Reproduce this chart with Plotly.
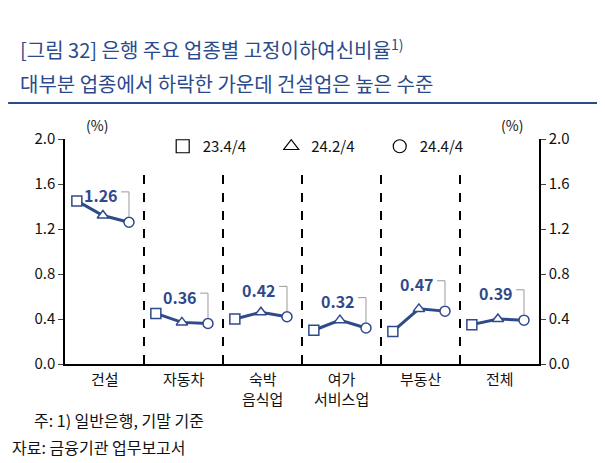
import plotly.graph_objects as go

groups = ["건설", "자동차", "숙박<br>음식업", "여가<br>서비스업", "부동산", "전체"]
periods = ["23.4/4", "24.2/4", "24.4/4"]
v_2304 = [1.45, 0.45, 0.40, 0.30, 0.29, 0.35]
v_2402 = [1.32, 0.37, 0.46, 0.39, 0.49, 0.40]
v_2404 = [1.26, 0.36, 0.42, 0.32, 0.47, 0.39]
y_ticks = [0.0, 0.4, 0.8, 1.2, 1.6, 2.0]

NAVY = "#2F4A8A"
FONT = "Noto Sans CJK KR"
offsets = [0.15, 0.48, 0.81]
symbols = ["square-open", "triangle-up-open", "circle-open"]

fig = go.Figure()

for i, g in enumerate(groups):
    xs = [i + o for o in offsets]
    ys = [v_2304[i], v_2402[i], v_2404[i]]
    fig.add_trace(go.Scatter(
        x=xs, y=ys, mode="lines+markers", showlegend=False,
        line=dict(color=NAVY, width=3),
        marker=dict(symbol=["square", "triangle-up", "circle"], size=10,
                    color="white", line=dict(color=NAVY, width=1.5))))
    # grey leader line from the label to the last point
    top = ys[2] + 0.27
    fig.add_trace(go.Scatter(
        x=[xs[2] - 0.1, xs[2], xs[2]], y=[top, top, ys[2] + 0.05],
        mode="lines", showlegend=False, hoverinfo="skip",
        line=dict(color="#9a9a9a", width=1)))
    fig.add_annotation(x=xs[2] - 0.12, y=top - 0.03, text=f"<b>{ys[2]:.2f}</b>",
                       showarrow=False, xanchor="right",
                       font=dict(family=FONT, size=16, color=NAVY))
    fig.add_annotation(x=i + 0.5, y=0, text=g, showarrow=False,
                       yanchor="top", yshift=-2,
                       font=dict(family=FONT, size=15, color="#111"))

# legend entries
for p, s in zip(periods, symbols):
    fig.add_trace(go.Scatter(x=[None], y=[None], mode="markers", name=p + "      ",
                             marker=dict(symbol=s, size=13, color="black",
                                         line=dict(width=1.2))))

for b in range(1, 6):
    fig.add_shape(type="line", x0=b, x1=b, y0=0, y1=1.69,
                  line=dict(color="black", width=2, dash="dash"))
    fig.add_shape(type="line", x0=b, x1=b, y0=0, y1=-0.04,
                  line=dict(color="black", width=1))

fig.add_trace(go.Scatter(x=[None], y=[None], yaxis="y2", showlegend=False))

fig.update_layout(
    width=605, height=463,
    margin=dict(l=57, r=74, t=131, b=107),
    paper_bgcolor="white", plot_bgcolor="white",
    font=dict(family=FONT, size=15, color="#111"),
    legend=dict(orientation="h", x=0.55, xanchor="center", y=1.04, yanchor="top",
                font=dict(family=FONT, size=15), bgcolor="rgba(0,0,0,0)"),
    xaxis=dict(range=[0, 6], showgrid=False, zeroline=False, showticklabels=False,
               showline=True, linecolor="black", linewidth=1.5),
    yaxis=dict(range=[0, 2.0], tickvals=y_ticks, tickformat=".1f",
               showgrid=False, zeroline=False, showline=True, linecolor="black",
               linewidth=1.5, ticks="outside", ticklen=5, tickfont=dict(size=15)),
    yaxis2=dict(range=[0, 2.0], tickvals=y_ticks, tickformat=".1f", overlaying="y",
                side="right", showgrid=False, zeroline=False, showline=True,
                linecolor="black", linewidth=1.5, ticks="outside", ticklen=5,
                tickfont=dict(size=15)),
)

fig.add_annotation(x=0.04, xref="paper", y=1.01, yref="paper", text="(%)",
                   showarrow=False, yanchor="bottom", font=dict(size=14))
fig.add_annotation(x=0.97, xref="paper", y=1.01, yref="paper", text="(%)",
                   showarrow=False, yanchor="bottom", font=dict(size=14))

title_font = dict(family=FONT, size=20, color="#2A4A8C")
fig.add_annotation(xref="paper", yref="paper", x=-0.10, y=1.40, xanchor="left",
                   yanchor="middle", showarrow=False,
                   text="[그림 32] 은행 주요 업종별 고정이하여신비율<sup>1)</sup>",
                   font=title_font)
fig.add_annotation(xref="paper", yref="paper", x=-0.10, y=1.245, xanchor="left",
                   yanchor="middle", showarrow=False,
                   text="대부분 업종에서 하락한 가운데 건설업은 높은 수준",
                   font=title_font)
fig.add_shape(type="line", xref="paper", yref="paper", x0=-0.12, x1=1.22,
              y0=1.16, y1=1.16, line=dict(color="#2A4A8C", width=2))
fig.add_annotation(xref="paper", yref="paper", x=-0.07, y=-0.31, xanchor="left",
                   showarrow=False, text="주: 1) 일반은행, 기말 기준",
                   font=dict(size=16, color="#111"))
fig.add_annotation(xref="paper", yref="paper", x=-0.115, y=-0.43, xanchor="left",
                   showarrow=False, text="자료: 금융기관 업무보고서",
                   font=dict(size=16, color="#111"))

fig.write_html("out.html")
